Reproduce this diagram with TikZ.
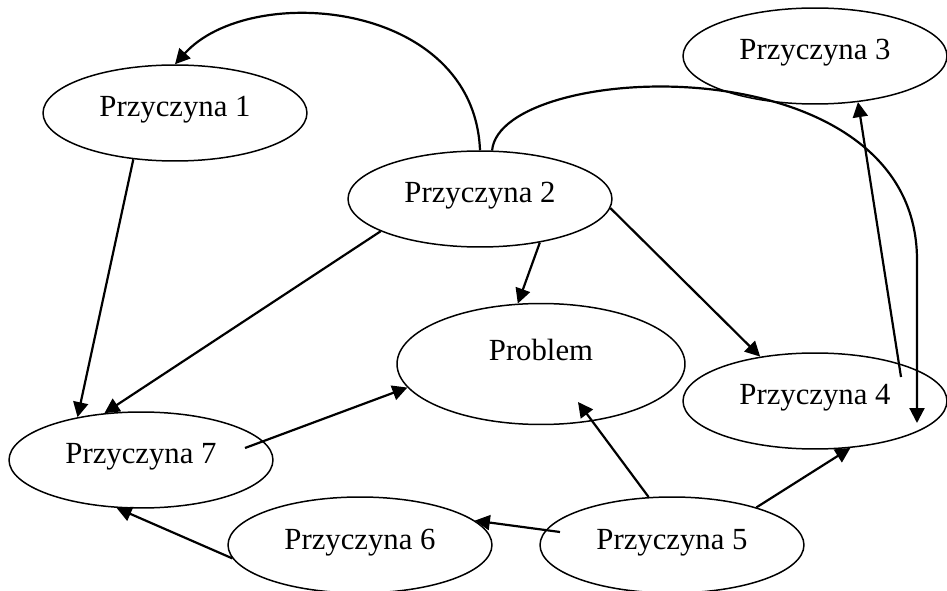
\documentclass[tikz,border=0pt]{standalone}
\usepackage{fontspec}
\setmainfont{Liberation Serif}
\usetikzlibrary{shapes.geometric,arrows.meta,calc}
\tikzset{
    cause/.style = {ellipse, draw, line width=0.85pt, inner sep=0pt,
        minimum width=5.28cm, minimum height=1.92cm,
        text height=0.42cm, text depth=0.26cm,
        font=\fontsize{17.5}{20}\selectfont},
    problem/.style = {cause, minimum width=5.76cm, minimum height=2.42cm, text depth=0.58cm},
    link/.style = {line width=1.25pt, -{Triangle[length=0.3cm, width=0.3cm]}}
}
\begin{document}
\begin{tikzpicture}[x=0.02cm, y=-0.02cm]
            \useasboundingbox (0,0) rectangle (947,591);
            \node[cause] (p1) at (175,113) {Przyczyna 1};
            \node[cause] (p2) at (480,199) {Przyczyna 2};
            \node[cause] (p3) at (815,56) {Przyczyna 3};
            \node[problem] (prob) at (541,364) {Problem};
            \node[cause] (p4) at (815,401) {Przyczyna 4};
            \node[cause] (p7) at (141,460) {Przyczyna 7};
            \node[cause] (p6) at (360,545) {Przyczyna 6};
            \node[cause] (p5) at (672,545) {Przyczyna 5};
            \coordinate (p4in) at ($(p4)+(102,22)$);
            \coordinate (p4out) at ($(p4)+(86,-24)$);
            \coordinate (p7out) at ($(p7)+(104,-12)$);
            \coordinate (p5out) at ($(p5)+(-112,-13)$);
            \coordinate (probin) at ($(prob)+(37,38)$);
            \draw[link] (p2.north) .. controls +(-6,-150) and +(75,-83) .. (p1.north);
            \draw[link] (p2.76) .. controls +(8,-90) and +(0,-220) .. ($(p4in)+(0,-163)$) -- (p4in);
            \draw[link] (p1.228) -- (p7.146);
            \draw[link] (p2.198) -- (p7.128);
            \draw[link] (p2.324) -- (prob.111);
            \draw[link] (p2.356) -- (p4.141);
            \draw[link] (p4out) -- (p3.313);
            \draw[link] (p7out) -- (prob.190);
            \draw[link] (p6.186) -- (p7.243);
            \draw[link] (p5out) -- (p6.12);
            \draw[link] (p5.116) -- (probin);
            \draw[link] (p5.24) -- (p4.307);
\end{tikzpicture}
\end{document}
